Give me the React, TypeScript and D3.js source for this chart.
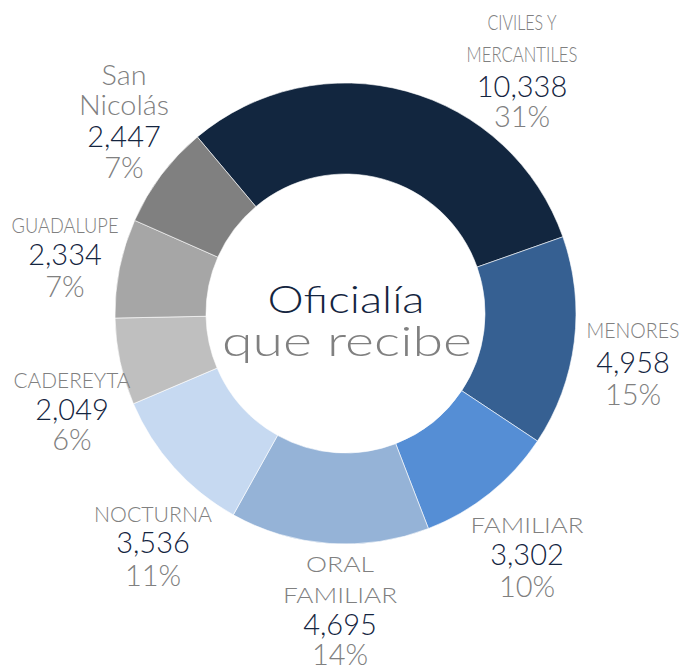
import React from "react";
import * as d3 from "d3";

const categories = [
  "CIVILES Y MERCANTILES",
  "MENORES",
  "FAMILIAR",
  "ORAL FAMILIAR",
  "NOCTURNA",
  "CADEREYTA",
  "GUADALUPE",
  "San Nicolás",
];
const nameLines = [
  ["CIVILES Y", "MERCANTILES"],
  ["MENORES"],
  ["FAMILIAR"],
  ["ORAL", "FAMILIAR"],
  ["NOCTURNA"],
  ["CADEREYTA"],
  ["GUADALUPE"],
  ["San", "Nicolás"],
];
const values = [10338, 4958, 3302, 4695, 3536, 2049, 2334, 2447];
const centerTitle = ["Oficialía", "que recibe"];

const colors = ["#12263f", "#366092", "#558ed5", "#95b3d7", "#c6d9f1", "#bfbfbf", "#a6a6a6", "#808080"];

// layout: label anchor x, baselines of each line, name widths, name font size
const labelLayout = [
  { x: 522, nameY: [30, 62], valueY: 97, pctY: 127, widths: [69, 111], size: 21 },
  { x: 633, nameY: [338], valueY: 373, pctY: 405, widths: [93], size: 21 },
  { x: 527, nameY: [533], valueY: 565, pctY: 597, widths: [113], size: 22 },
  { x: 340, nameY: [572, 603], valueY: 635, pctY: 665, widths: [68, 114], size: 22 },
  { x: 153, nameY: [522], valueY: 553, pctY: 586, widths: [118], size: 21 },
  { x: 72, nameY: [388], valueY: 420, pctY: 450, widths: [117], size: 21 },
  { x: 65, nameY: [233], valueY: 265, pctY: 297, widths: [107], size: 21 },
  { x: 124, nameY: [85, 115], valueY: 147, pctY: 178, widths: [45, 90], size: 28 },
];

const W = 687;
const H = 668;
const cx = 345.5;
const cy = 313.5;
const outerR = 230.5;
const innerR = 139.5;
const startDeg = -40;

export default function App() {
  const total = d3.sum(values);
  const start = (startDeg * Math.PI) / 180;
  const pie = d3
    .pie<number>()
    .sort(null)
    .value((d) => d)
    .startAngle(start)
    .endAngle(start + 2 * Math.PI);
  const arcs = pie(values);
  const arc = d3.arc<d3.PieArcDatum<number>>().innerRadius(innerR).outerRadius(outerR);
  const fmtNum = d3.format(",");
  const fmtPct = d3.format(".0%");
  const font = "Lato, 'Open Sans', sans-serif";
  const gray = "#808080";
  const navy = "#14253f";

  return (
    <svg
      width={W}
      height={H}
      style={{ position: "absolute", left: 0, top: 0, background: "#fff" }}
      fontFamily={font}
      fontWeight={300}
    >
      <g transform={`translate(${cx},${cy})`}>
        {arcs.map((a, i) => (
          <path key={categories[i]} d={arc(a) || ""} fill={colors[i]} stroke="#ffffff" strokeWidth={0.6} />
        ))}
      </g>
      {categories.map((c, i) => {
        const L = labelLayout[i];
        return (
          <g key={c} textAnchor="middle">
            {nameLines[i].map((t, j) => (
              <text
                key={t}
                x={L.x}
                y={L.nameY[j]}
                fontSize={L.size}
                fill={gray}
                textLength={L.widths[j]}
                lengthAdjust="spacingAndGlyphs"
              >
                {t}
              </text>
            ))}
            <text x={L.x} y={L.valueY} fontSize={29} fill={navy}>
              {fmtNum(values[i])}
            </text>
            <text x={L.x} y={L.pctY} fontSize={29} fill={gray}>
              {fmtPct(values[i] / total)}
            </text>
          </g>
        );
      })}
      <text x={346} y={313} textAnchor="middle" fontSize={38} fill={navy} textLength={157} lengthAdjust="spacingAndGlyphs">
        {centerTitle[0]}
      </text>
      <text x={347} y={356} textAnchor="middle" fontSize={42} fill={gray} textLength={250} lengthAdjust="spacingAndGlyphs">
        {centerTitle[1]}
      </text>
    </svg>
  );
}
